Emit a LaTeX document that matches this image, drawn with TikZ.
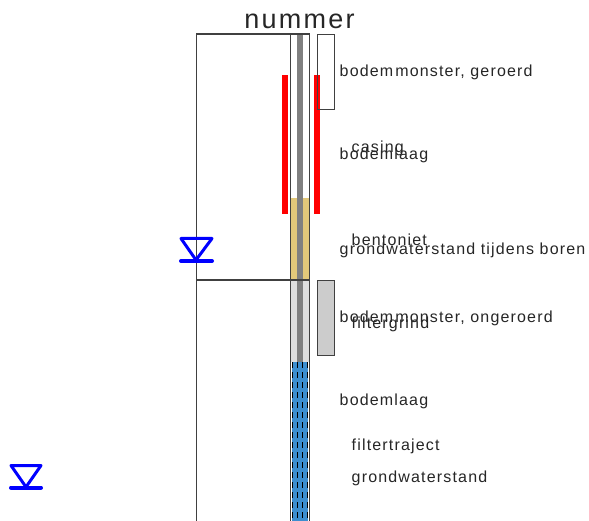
\documentclass[tikz,border=0pt]{standalone}
\usepackage{fontspec}
\setmainfont{Liberation Sans}
\newfontfamily\lblfont[LetterSpace=7.3]{Liberation Sans}
\newfontfamily\ttlfont[LetterSpace=8.5]{Liberation Sans}
\tikzset{
  x=1pt,y=-1pt,
  lbl/.style={anchor=base west,inner sep=0pt,font=\lblfont\fontsize{16}{16}\selectfont,text=black!85},
  ttl/.style={anchor=base,inner sep=0pt,font=\ttlfont\fontsize{27}{27}\selectfont,text=black!85},
  thinline/.style={draw=black!75,line width=1.1pt},
  gwsym/.style={draw=blue,line width=3pt,line cap=round,line join=round},
  gwbar/.style={draw=blue,line width=4pt,line cap=round},
  redbar/.style={fill=red,draw=none},
}
\begin{document}
\begin{tikzpicture}
\useasboundingbox (0,0) rectangle (589,521);
% fills
\fill[black!13] (291,280) rectangle (309,362);
\fill[fill={rgb,255:red,226;green,200;blue,122}] (291,198) rectangle (309,280);
\fill[fill={rgb,255:red,60;green,142;blue,208}] (292,362) rectangle (308,521);
\fill[black!50] (297,34) rectangle (303,362);
% tube
\draw[thinline] (290.5,34) -- (290.5,521);
\draw[thinline] (309.5,34) -- (309.5,521);
\draw[thinline] (196.5,521) -- (196.5,34) -- (309.5,34);
\draw[thinline] (196.5,280) -- (309.5,280);
% filter dashes
\foreach \x in {292.5,297.5,302.5,307.5}
  \draw[black,line width=1.1pt,dash pattern=on 6pt off 4pt] (\x,362) -- (\x,521);
% casing
\fill[redbar] (282,75) rectangle (288,214);
\fill[redbar] (314,75) rectangle (320,214);
% samples
\draw[thinline] (317.5,34.5) rectangle (334.5,109.5);
\draw[thinline,fill=black!20] (317.5,280.5) rectangle (334.5,355.5);
% groundwater symbols
\draw[gwsym] (181,238.5) -- (212,238.5) -- (196,260) -- cycle;
\draw[gwbar] (181,261) -- (212,261);
\draw[gwsym] (11,465.5) -- (41,465.5) -- (26,487) -- cycle;
\draw[gwbar] (11,487.5) -- (41,487.5);
% texts
\node[ttl] (title) at (299.5,29) {nummer};
\node[lbl] (l1) at (339.5,77) {bodem\kern2pt monster, geroerd};
\node[lbl] (l2) at (351.5,153) {casing};
\node[lbl] (l3) at (339.5,160) {bodemlaag};
\node[lbl] (l4) at (351.5,246) {bentoniet};
\node[lbl] (l5) at (339.5,255) {grondwaterstand tijdens boren};
\node[lbl] (l6) at (339.5,323) {bodem\kern2pt monster, ongeroerd};
\node[lbl] (l7) at (351.5,328) {filtergrind};
\node[lbl] (l8) at (339.5,405) {bodemlaag};
\node[lbl] (l9) at (351.5,450) {filtertraject};
\node[lbl] (l10) at (351.5,482) {grondwaterstand};
\end{tikzpicture}
\end{document}
